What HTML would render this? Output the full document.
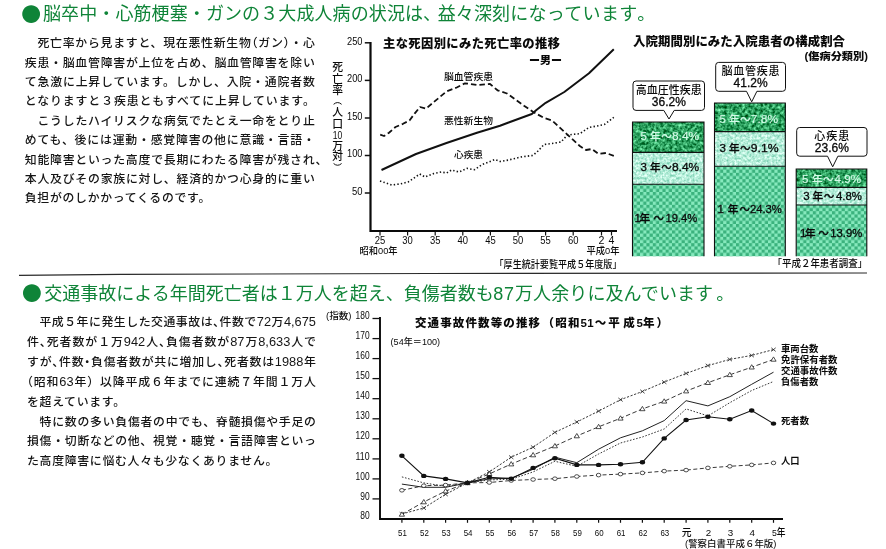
<!DOCTYPE html><html lang="ja"><head><meta charset="utf-8"><title>成人病と交通事故の状況</title><style>
html,body{margin:0;padding:0;background:#fff;}
#page{position:relative;width:886px;height:549px;background:#fff;overflow:hidden;font-family:"Liberation Sans","Noto Sans CJK JP",sans-serif;color:#111;}
.h{position:absolute;white-space:nowrap;color:#0f8438;font-size:18px;line-height:24px;height:24px;font-weight:400;font-family:"Liberation Sans","Noto Sans CJK JP",sans-serif;letter-spacing:0.1px;}
.h i{font-style:normal;margin-right:-3.5px;}
.bl{position:absolute;left:21.2px;color:#0f8438;font-size:19.8px;line-height:24px;height:24px;font-family:"Noto Sans CJK JP",sans-serif;}
.l u{text-decoration:none;font-size:12.8px;line-height:0;}
.l{position:absolute;white-space:nowrap;font-size:11.9px;line-height:19px;height:19px;font-weight:500;font-family:"Liberation Sans","Noto Sans CJK JP",sans-serif;text-align:justify;text-align-last:justify;text-justify:inter-character;color:#151515;}
.l.s{text-align:left;text-align-last:left;letter-spacing:0.68px;}
.l b{font-weight:inherit;font-feature-settings:"halt" 1;}
svg{position:absolute;left:0;top:0;}
svg text{font-family:"Liberation Sans","Noto Sans CJK JP",sans-serif;fill:#0a0a0a;font-weight:500;}
svg text.bk{font-weight:900;}
</style></head><body><div id="page">
<div class="bl" style="top:1.7px">●</div>
<div class="h" style="top:1.9px;left:43px">脳卒中・心筋梗塞・ガンの３大成人病の状況は<i>、</i>益々深刻<span style="letter-spacing:0.35px">になっています</span><span style="margin-left:-0.5px">。</span></div>
<div class="bl" style="top:281.4px;left:22px">●</div>
<div class="h" style="top:281.5px;left:44.2px;letter-spacing:0">交通事故による年間死亡者は１万人を超え、負傷者数も<span style="letter-spacing:0.9px;margin:0 0 0 -0.5px">87</span><span style="letter-spacing:0.1px">万人余りに及んでいます<span style="margin-left:3px">。</span></span></div>
<div class="l" style="left:24.8px;top:34.3px;width:290px">　死亡率から見ますと、現在悪性新生物<b>（</b>ガン<b>）</b>・心</div>
<div class="l" style="left:24.8px;top:53.7px;width:290px">疾患・脳血管障害が上位を占め、脳血管障害を除い</div>
<div class="l" style="left:24.8px;top:73.0px;width:290px">て急激に上昇しています。しかし、入院・通院者数</div>
<div class="l" style="left:24.8px;top:92.4px;width:290px">となりますと３疾患ともすべてに上昇しています。</div>
<div class="l" style="left:24.8px;top:111.8px;width:290px">　こうしたハイリスクな病気でたとえ一命をとり止</div>
<div class="l" style="left:24.8px;top:131.2px;width:290px">めても、後には運動・感覚障害の他に意識・言語・</div>
<div class="l" style="left:24.8px;top:150.5px;width:302.6px">知能障害といった高度で長期にわたる障害が残され、</div>
<div class="l" style="left:24.8px;top:169.9px;width:290px">本人及びその家族に対し、経済的かつ心身的に重い</div>
<div class="l s" style="left:24.8px;top:189.3px">負担がのしかかってくるのです。</div>
<div class="l" style="left:27px;top:313.3px;width:289px">　平成５年に発生した交通事故は<b>、</b>件数で<u>72</u>万<u>4,675</u></div>
<div class="l" style="left:27px;top:333.2px;width:289px">件<b>、</b>死者数が１万<u>942</u>人<b>、</b>負傷者数が<u>87</u>万<u>8,633</u>人で</div>
<div class="l" style="left:27px;top:353.0px;width:289px">すが<b>、</b>件数<b>・</b>負傷者数が共に増加し<b>、</b>死者数は<u>1988</u>年</div>
<div class="l" style="left:27px;top:372.9px;width:289px"><b>（</b>昭和<u>63</u>年）以降平成６年までに連続７年間１万人</div>
<div class="l s" style="left:27px;top:392.7px">を超えています。</div>
<div class="l" style="left:27px;top:412.6px;width:289px">　特に数の多い負傷者の中でも、脊髄損傷や手足の</div>
<div class="l" style="left:27px;top:432.4px;width:289px">損傷・切断などの他、視覚・聴覚・言語障害といっ</div>
<div class="l s" style="left:27px;top:452.2px">た高度障害に悩む人々も少なくありません。</div>
<svg width="886" height="549" viewBox="0 0 886 549">
<defs>
<pattern id="pd" width="6" height="6" patternUnits="userSpaceOnUse"><rect width="6" height="6" fill="#1f9758"/><rect x="0" y="0" width="2" height="2" fill="#55cf95"/><rect x="3" y="3" width="2" height="2" fill="#44c086"/><rect x="3" y="0" width="2.5" height="2.5" fill="#0f7c43"/><rect x="0" y="3" width="2.5" height="2.5" fill="#128247"/></pattern>
<pattern id="pm" width="6" height="6" patternUnits="userSpaceOnUse"><rect width="6" height="6" fill="#b9f0db"/><rect x="1" y="1" width="1.6" height="1.6" fill="#86c9b0"/><rect x="4" y="4" width="1.6" height="1.6" fill="#98d6be"/><rect x="4" y="1" width="1.3" height="1.3" fill="#a6e0ca"/></pattern>
<pattern id="pb" width="6.4" height="6.4" patternUnits="userSpaceOnUse"><rect width="6.4" height="6.4" fill="#86e9bd"/><rect x="0" y="0" width="3.2" height="3.2" fill="#3bb27d"/><rect x="3.2" y="3.2" width="3.2" height="3.2" fill="#3bb27d"/></pattern>
<filter id="fd" x="0" y="0" width="100%" height="100%" color-interpolation-filters="sRGB"><feTurbulence type="fractalNoise" baseFrequency="0.33" numOctaves="2" seed="7"/><feColorMatrix type="matrix" values="1.0 0 0 0 -0.32  1.1 0 0 0 0.08  1.05 0 0 0 -0.15  0 0 0 0 1"/></filter>
<filter id="fm" x="0" y="0" width="100%" height="100%" color-interpolation-filters="sRGB"><feTurbulence type="fractalNoise" baseFrequency="0.4" numOctaves="2" seed="11"/><feColorMatrix type="matrix" values="0.75 0 0 0 0.335  0.38 0 0 0 0.74  0.5 0 0 0 0.60  0 0 0 0 1"/></filter>
<filter id="fb" x="0" y="0" width="100%" height="100%" color-interpolation-filters="sRGB"><feTurbulence type="fractalNoise" baseFrequency="0.5" numOctaves="1" seed="5" result="n"/><feColorMatrix in="n" type="matrix" values="0 0 0 0 1  0 0 0 0 1  0 0 0 0 1  1.6 0 0 0 -0.62" result="w"/><feComposite in="w" in2="SourceGraphic" operator="over"/></filter>
</defs>
<path d="M19,275.3 L120,274.4 L430,273.5 L867,273" fill="none" stroke="#2a2a2a" stroke-width="1.2"/>
<g id="c1">
<path d="M370.5,42 V231 H617" fill="none" stroke="#0a0a0a" stroke-width="2.2"/>
<line x1="364.8" y1="42.8" x2="370.5" y2="42.8" stroke="#111" stroke-width="1.5"/>
<text x="362.5" y="44.6" font-size="10.6" text-anchor="end" textLength="15.5" lengthAdjust="spacingAndGlyphs">250</text>
<line x1="364.8" y1="80.4" x2="370.5" y2="80.4" stroke="#111" stroke-width="1.5"/>
<text x="362.5" y="82.2" font-size="10.6" text-anchor="end" textLength="15.5" lengthAdjust="spacingAndGlyphs">200</text>
<line x1="364.8" y1="118" x2="370.5" y2="118" stroke="#111" stroke-width="1.5"/>
<text x="362.5" y="119.8" font-size="10.6" text-anchor="end" textLength="15.5" lengthAdjust="spacingAndGlyphs">150</text>
<line x1="364.8" y1="155.5" x2="370.5" y2="155.5" stroke="#111" stroke-width="1.5"/>
<text x="362.5" y="157.3" font-size="10.6" text-anchor="end" textLength="15.5" lengthAdjust="spacingAndGlyphs">100</text>
<line x1="364.8" y1="193" x2="370.5" y2="193" stroke="#111" stroke-width="1.5"/>
<text x="362.5" y="194.8" font-size="10.6" text-anchor="end" textLength="10.5" lengthAdjust="spacingAndGlyphs">50</text>
<line x1="380" y1="231" x2="380" y2="235.5" stroke="#111" stroke-width="1.2"/>
<text x="380" y="244.3" font-size="10.6" text-anchor="middle" textLength="10.5" lengthAdjust="spacingAndGlyphs">25</text>
<line x1="407.6" y1="231" x2="407.6" y2="235.5" stroke="#111" stroke-width="1.2"/>
<text x="407.6" y="244.3" font-size="10.6" text-anchor="middle" textLength="10.5" lengthAdjust="spacingAndGlyphs">30</text>
<line x1="435.2" y1="231" x2="435.2" y2="235.5" stroke="#111" stroke-width="1.2"/>
<text x="435.2" y="244.3" font-size="10.6" text-anchor="middle" textLength="10.5" lengthAdjust="spacingAndGlyphs">35</text>
<line x1="462.8" y1="231" x2="462.8" y2="235.5" stroke="#111" stroke-width="1.2"/>
<text x="462.8" y="244.3" font-size="10.6" text-anchor="middle" textLength="10.5" lengthAdjust="spacingAndGlyphs">40</text>
<line x1="490.4" y1="231" x2="490.4" y2="235.5" stroke="#111" stroke-width="1.2"/>
<text x="490.4" y="244.3" font-size="10.6" text-anchor="middle" textLength="10.5" lengthAdjust="spacingAndGlyphs">45</text>
<line x1="518" y1="231" x2="518" y2="235.5" stroke="#111" stroke-width="1.2"/>
<text x="518" y="244.3" font-size="10.6" text-anchor="middle" textLength="10.5" lengthAdjust="spacingAndGlyphs">50</text>
<line x1="545.6" y1="231" x2="545.6" y2="235.5" stroke="#111" stroke-width="1.2"/>
<text x="545.6" y="244.3" font-size="10.6" text-anchor="middle" textLength="10.5" lengthAdjust="spacingAndGlyphs">55</text>
<line x1="573.2" y1="231" x2="573.2" y2="235.5" stroke="#111" stroke-width="1.2"/>
<text x="573.2" y="244.3" font-size="10.6" text-anchor="middle" textLength="10.5" lengthAdjust="spacingAndGlyphs">60</text>
<line x1="601.5" y1="231" x2="601.5" y2="235.5" stroke="#111" stroke-width="1.2"/>
<text x="601.5" y="244.3" font-size="10.6" text-anchor="middle">2</text>
<line x1="611.5" y1="231" x2="611.5" y2="235.5" stroke="#111" stroke-width="1.2"/>
<text x="611.5" y="244.3" font-size="10.6" text-anchor="middle">4</text>
<text x="359.6" y="254" font-size="9.6" textLength="38" lengthAdjust="spacingAndGlyphs">昭和00年</text>
<text x="586.5" y="254" font-size="9.6" textLength="33" lengthAdjust="spacingAndGlyphs">平成0年</text>
<text x="494.5" y="267.8" font-size="10" textLength="127" lengthAdjust="spacingAndGlyphs">「厚生統計要覧平成５年度版」</text>
<text x="383" y="47.5" font-size="12.3" class="bk" textLength="177" lengthAdjust="spacing">主な死因別にみた死亡率の推移</text>
<text x="529" y="63.5" font-size="10.5" class="bk" textLength="33" lengthAdjust="spacingAndGlyphs">ー男ー</text>
<text x="444" y="80" font-size="9.6" textLength="49" lengthAdjust="spacingAndGlyphs">脳血管疾患</text>
<text x="444" y="124" font-size="9.6" textLength="49" lengthAdjust="spacingAndGlyphs">悪性新生物</text>
<text x="454" y="158" font-size="9.6" textLength="29" lengthAdjust="spacingAndGlyphs">心疾患</text>
<text font-size="10.8" text-anchor="middle"><tspan x="337.6" y="70.7">死</tspan><tspan x="337.6" y="82.9">亡</tspan><tspan x="337.6" y="94.4">率</tspan><tspan x="337.6" y="115.7">人</tspan><tspan x="337.6" y="127.9">口</tspan><tspan x="337.6" y="149.9">万</tspan><tspan x="337.6" y="160.2">対</tspan><tspan x="337.6" y="139.3" textLength="9.5" lengthAdjust="spacingAndGlyphs">10</tspan></text>
<path d="M333.6,104.3 Q337.6,100.8 341.6,104.3" fill="none" stroke="#111" stroke-width="1"/>
<path d="M333.6,163.5 Q337.6,167 341.6,163.5" fill="none" stroke="#111" stroke-width="1"/>
<path d="M380.2,134.7 L384.0,136.0 L389.0,132.7 L395.5,127.0 L403.0,123.8 L409.5,120.5 L414.6,113.6 L420.0,107.0 L426.0,108.7 L433.8,102.0 L446.5,91.5 L456.7,87.5 L465.0,83.3 L477.0,85.0 L490.0,84.0 L497.5,90.3 L507.0,93.5 L524.0,105.8 L533.3,112.0 L544.0,118.0 L552.0,120.4 L567.4,134.6 L579.8,146.0 L586.0,150.0 L592.0,149.0 L598.4,153.8 L606.0,153.0 L613.8,155.8" fill="none" stroke="#111" stroke-width="1.8" stroke-dasharray="5.5,3" stroke-linejoin="round"/>
<path d="M381.5,170.0 L416.0,154.0 L446.5,143.0 L477.0,132.7 L500.0,125.8 L508.6,122.5 L531.8,114.0 L536.4,110.0 L545.7,102.8 L564.3,92.0 L589.0,73.3 L613.8,49.2" fill="none" stroke="#111" stroke-width="2" stroke-linejoin="round"/>
<path d="M380.0,181.0 L391.7,185.0 L400.0,184.0 L408.0,182.0 L414.0,178.0 L419.7,174.0 L425.0,177.0 L433.8,173.5 L441.4,172.0 L446.5,173.0 L451.6,170.0 L459.0,172.0 L467.0,168.4 L474.6,169.7 L482.0,164.6 L495.0,159.5 L500.0,161.5 L508.6,160.0 L521.0,157.0 L533.0,155.4 L538.0,151.0 L544.0,144.5 L552.0,143.5 L561.0,142.0 L567.4,135.0 L579.8,133.7 L589.0,127.5 L596.8,126.0 L604.5,124.4 L609.0,121.0 L613.8,117.3" fill="none" stroke="#111" stroke-width="1.6" stroke-dasharray="1.4,2.2" stroke-linejoin="round"/>
</g>
<g id="c2">
<text x="633" y="45.5" font-size="12.4" class="bk" textLength="212" lengthAdjust="spacing">入院期間別にみた入院患者の構成割合</text>
<text x="804.5" y="59.6" font-size="10.4" class="bk" textLength="63.5" lengthAdjust="spacingAndGlyphs">(傷病分類別)</text>
<rect x="632.5" y="122" width="71.5" height="30.4" fill="#2a9c5c" filter="url(#fd)"/>
<rect x="632.5" y="152.4" width="71.5" height="31.8" fill="#b5ecd6" filter="url(#fm)"/>
<rect x="632.5" y="184.2" width="71.5" height="72.1" fill="url(#pb)"/>
<path d="M632.5,256.3 V122 H704 V256.3 M632.5,152.4 H704 M632.5,184.2 H704" fill="none" stroke="#111" stroke-width="1.1"/>
<rect x="714.5" y="103" width="70.8" height="28.6" fill="#2a9c5c" filter="url(#fd)"/>
<rect x="714.5" y="131.6" width="70.8" height="34.7" fill="#b5ecd6" filter="url(#fm)"/>
<rect x="714.5" y="166.3" width="70.8" height="90.0" fill="url(#pb)"/>
<path d="M714.5,256.3 V103 H785.3 V256.3 M714.5,131.6 H785.3 M714.5,166.3 H785.3" fill="none" stroke="#111" stroke-width="1.1"/>
<rect x="796.2" y="169" width="70.6" height="18.4" fill="#2a9c5c" filter="url(#fd)"/>
<rect x="796.2" y="187.4" width="70.6" height="17.6" fill="#b5ecd6" filter="url(#fm)"/>
<rect x="796.2" y="205" width="70.6" height="51.3" fill="url(#pb)"/>
<path d="M796.2,256.3 V169 H866.8 V256.3 M796.2,187.4 H866.8 M796.2,205 H866.8" fill="none" stroke="#111" stroke-width="1.1"/>
<text y="140.3" font-size="11.5" style="fill:#d4fbe8;stroke:#d4fbe8;stroke-width:0.15"><tspan x="640.4">5</tspan><tspan x="649.9" font-size="10.6">年</tspan><tspan x="661.2" font-size="10.6">～</tspan><tspan x="671.9" textLength="27.3" lengthAdjust="spacingAndGlyphs">8.4%</tspan></text>
<text y="171.2" font-size="11.5" style="fill:#0a0a0a;stroke:#0a0a0a;stroke-width:0.3"><tspan x="640.4">3</tspan><tspan x="649.9" font-size="10.6">年</tspan><tspan x="661.2" font-size="10.6">～</tspan><tspan x="671.9" textLength="27.3" lengthAdjust="spacingAndGlyphs">8.4%</tspan></text>
<text y="221.8" font-size="11.5" style="fill:#0a0a0a;stroke:#0a0a0a;stroke-width:0.3"><tspan x="634.6">1</tspan><tspan x="639.6" font-size="10.6">年</tspan><tspan x="653.4" font-size="10.6">～</tspan><tspan x="665.4" textLength="31.8" lengthAdjust="spacingAndGlyphs">19.4%</tspan></text>
<text y="122.7" font-size="11.5" style="fill:#d4fbe8;stroke:#d4fbe8;stroke-width:0.15"><tspan x="719.5">5</tspan><tspan x="729.0" font-size="10.6">年</tspan><tspan x="740.1" font-size="10.6">～</tspan><tspan x="750.8" textLength="27.3" lengthAdjust="spacingAndGlyphs">7.8%</tspan></text>
<text y="152.2" font-size="11.5" style="fill:#0a0a0a;stroke:#0a0a0a;stroke-width:0.3"><tspan x="719.5">3</tspan><tspan x="729.0" font-size="10.6">年</tspan><tspan x="740.1" font-size="10.6">～</tspan><tspan x="750.8" textLength="27.8" lengthAdjust="spacingAndGlyphs">9.1%</tspan></text>
<text y="213.0" font-size="11.5" style="fill:#0a0a0a;stroke:#0a0a0a;stroke-width:0.3"><tspan x="717.6">1</tspan><tspan x="727.8" font-size="10.6">年</tspan><tspan x="739.6" font-size="10.6">～</tspan><tspan x="749.9" textLength="32" lengthAdjust="spacingAndGlyphs">24.3%</tspan></text>
<text y="182.6" font-size="11.5" style="fill:#d4fbe8;stroke:#d4fbe8;stroke-width:0.15"><tspan x="801.9">5</tspan><tspan x="811.9" font-size="10.6">年</tspan><tspan x="823.1" font-size="10.6">～</tspan><tspan x="834.6" textLength="26.5" lengthAdjust="spacingAndGlyphs">4.9%</tspan></text>
<text y="200.0" font-size="11.5" style="fill:#0a0a0a;stroke:#0a0a0a;stroke-width:0.3"><tspan x="803.3">3</tspan><tspan x="812.6" font-size="10.6">年</tspan><tspan x="823.8" font-size="10.6">～</tspan><tspan x="835.9" textLength="26" lengthAdjust="spacingAndGlyphs">4.8%</tspan></text>
<text y="236.5" font-size="11.5" style="fill:#0a0a0a;stroke:#0a0a0a;stroke-width:0.3"><tspan x="799.9">1</tspan><tspan x="804.9" font-size="10.6">年</tspan><tspan x="818.3" font-size="10.6">～</tspan><tspan x="830.2" textLength="32" lengthAdjust="spacingAndGlyphs">13.9%</tspan></text>
<path d="M636,81 H701.5 Q704.5,81 704.5,84 V107.4 Q704.5,110.4 701.5,110.4 H674.2 L669,119 L663.8,110.4 H636 Q633,110.4 633,107.4 V84 Q633,81 636,81 Z" fill="#fff" stroke="#111" stroke-width="1"/>
<path d="M718.7,62.4 H782.5 Q785.5,62.4 785.5,65.4 V88.3 Q785.5,91.3 782.5,91.3 H756.9000000000001 L751.7,101.8 L746.5,91.3 H718.7 Q715.7,91.3 715.7,88.3 V65.4 Q715.7,62.4 718.7,62.4 Z" fill="#fff" stroke="#111" stroke-width="1"/>
<path d="M799.7,127.5 H864 Q867,127.5 867,130.5 V153.2 Q867,156.2 864,156.2 H837.9000000000001 L832.7,166.8 L827.5,156.2 H799.7 Q796.7,156.2 796.7,153.2 V130.5 Q796.7,127.5 799.7,127.5 Z" fill="#fff" stroke="#111" stroke-width="1"/>
<text x="668.8" y="93.5" font-size="11" text-anchor="middle" textLength="66" lengthAdjust="spacingAndGlyphs">高血圧性疾患</text>
<text x="668.8" y="105.6" font-size="12" text-anchor="middle" style="stroke:#0a0a0a;stroke-width:0.3">36.2%</text>
<text x="750.6" y="75" font-size="11" text-anchor="middle" textLength="58" lengthAdjust="spacing">脳血管疾患</text>
<text x="750.6" y="87.2" font-size="12" text-anchor="middle" style="stroke:#0a0a0a;stroke-width:0.3">41.2%</text>
<text x="831.8" y="140" font-size="11" text-anchor="middle" textLength="35" lengthAdjust="spacing">心疾患</text>
<text x="831.8" y="152.3" font-size="12" text-anchor="middle" style="stroke:#0a0a0a;stroke-width:0.3">23.6%</text>
<text x="772.5" y="267.2" font-size="9.8" textLength="94.7" lengthAdjust="spacingAndGlyphs">「平成２年患者調査」</text>
</g>
<g id="c3">
<path d="M380,317 V519 H783" fill="none" stroke="#0a0a0a" stroke-width="1.9"/>
<text x="369.6" y="518.7" font-size="10.5" text-anchor="end" textLength="9.4" lengthAdjust="spacingAndGlyphs">80</text>
<line x1="372.5" y1="498.9" x2="380" y2="498.9" stroke="#111" stroke-width="1.3"/>
<text x="369.6" y="499.6" font-size="10.5" text-anchor="end" textLength="9.4" lengthAdjust="spacingAndGlyphs">90</text>
<line x1="372.5" y1="478.9" x2="380" y2="478.9" stroke="#111" stroke-width="1.3"/>
<text x="369.6" y="479.5" font-size="10.5" text-anchor="end" textLength="14" lengthAdjust="spacingAndGlyphs">100</text>
<line x1="372.5" y1="458.9" x2="380" y2="458.9" stroke="#111" stroke-width="1.3"/>
<text x="369.6" y="459.5" font-size="10.5" text-anchor="end" textLength="14" lengthAdjust="spacingAndGlyphs">110</text>
<line x1="372.5" y1="438.8" x2="380" y2="438.8" stroke="#111" stroke-width="1.3"/>
<text x="369.6" y="439.4" font-size="10.5" text-anchor="end" textLength="14" lengthAdjust="spacingAndGlyphs">120</text>
<line x1="372.5" y1="418.8" x2="380" y2="418.8" stroke="#111" stroke-width="1.3"/>
<text x="369.6" y="419.4" font-size="10.5" text-anchor="end" textLength="14" lengthAdjust="spacingAndGlyphs">130</text>
<line x1="372.5" y1="398.7" x2="380" y2="398.7" stroke="#111" stroke-width="1.3"/>
<text x="369.6" y="399.3" font-size="10.5" text-anchor="end" textLength="14" lengthAdjust="spacingAndGlyphs">140</text>
<line x1="372.5" y1="378.6" x2="380" y2="378.6" stroke="#111" stroke-width="1.3"/>
<text x="369.6" y="379.2" font-size="10.5" text-anchor="end" textLength="14" lengthAdjust="spacingAndGlyphs">150</text>
<line x1="372.5" y1="358.6" x2="380" y2="358.6" stroke="#111" stroke-width="1.3"/>
<text x="369.6" y="359.2" font-size="10.5" text-anchor="end" textLength="14" lengthAdjust="spacingAndGlyphs">160</text>
<line x1="372.5" y1="338.6" x2="380" y2="338.6" stroke="#111" stroke-width="1.3"/>
<text x="369.6" y="339.2" font-size="10.5" text-anchor="end" textLength="14" lengthAdjust="spacingAndGlyphs">170</text>
<line x1="372.5" y1="318.5" x2="380" y2="318.5" stroke="#111" stroke-width="1.3"/>
<text x="369.6" y="319.1" font-size="10.5" text-anchor="end" textLength="14" lengthAdjust="spacingAndGlyphs">180</text>
<text x="326" y="318.7" font-size="8.8" textLength="25.5" lengthAdjust="spacingAndGlyphs">(指数)</text>
<line x1="401.9" y1="519" x2="401.9" y2="522.8" stroke="#111" stroke-width="1.2"/>
<text x="402.5" y="536.2" font-size="9.8" text-anchor="middle" textLength="8.8" lengthAdjust="spacingAndGlyphs">51</text>
<line x1="423.8" y1="519" x2="423.8" y2="522.8" stroke="#111" stroke-width="1.2"/>
<text x="424.4" y="536.2" font-size="9.8" text-anchor="middle" textLength="8.8" lengthAdjust="spacingAndGlyphs">52</text>
<line x1="445.6" y1="519" x2="445.6" y2="522.8" stroke="#111" stroke-width="1.2"/>
<text x="446.2" y="536.2" font-size="9.8" text-anchor="middle" textLength="8.8" lengthAdjust="spacingAndGlyphs">53</text>
<line x1="467.5" y1="519" x2="467.5" y2="522.8" stroke="#111" stroke-width="1.2"/>
<text x="468.1" y="536.2" font-size="9.8" text-anchor="middle" textLength="8.8" lengthAdjust="spacingAndGlyphs">54</text>
<line x1="489.3" y1="519" x2="489.3" y2="522.8" stroke="#111" stroke-width="1.2"/>
<text x="489.9" y="536.2" font-size="9.8" text-anchor="middle" textLength="8.8" lengthAdjust="spacingAndGlyphs">55</text>
<line x1="511.2" y1="519" x2="511.2" y2="522.8" stroke="#111" stroke-width="1.2"/>
<text x="511.8" y="536.2" font-size="9.8" text-anchor="middle" textLength="8.8" lengthAdjust="spacingAndGlyphs">56</text>
<line x1="533.1" y1="519" x2="533.1" y2="522.8" stroke="#111" stroke-width="1.2"/>
<text x="533.7" y="536.2" font-size="9.8" text-anchor="middle" textLength="8.8" lengthAdjust="spacingAndGlyphs">57</text>
<line x1="554.9" y1="519" x2="554.9" y2="522.8" stroke="#111" stroke-width="1.2"/>
<text x="555.5" y="536.2" font-size="9.8" text-anchor="middle" textLength="8.8" lengthAdjust="spacingAndGlyphs">58</text>
<line x1="576.8" y1="519" x2="576.8" y2="522.8" stroke="#111" stroke-width="1.2"/>
<text x="577.4" y="536.2" font-size="9.8" text-anchor="middle" textLength="8.8" lengthAdjust="spacingAndGlyphs">59</text>
<line x1="598.6" y1="519" x2="598.6" y2="522.8" stroke="#111" stroke-width="1.2"/>
<text x="599.2" y="536.2" font-size="9.8" text-anchor="middle" textLength="8.8" lengthAdjust="spacingAndGlyphs">60</text>
<line x1="620.5" y1="519" x2="620.5" y2="522.8" stroke="#111" stroke-width="1.2"/>
<text x="621.1" y="536.2" font-size="9.8" text-anchor="middle" textLength="8.8" lengthAdjust="spacingAndGlyphs">61</text>
<line x1="642.4" y1="519" x2="642.4" y2="522.8" stroke="#111" stroke-width="1.2"/>
<text x="643.0" y="536.2" font-size="9.8" text-anchor="middle" textLength="8.8" lengthAdjust="spacingAndGlyphs">62</text>
<line x1="664.2" y1="519" x2="664.2" y2="522.8" stroke="#111" stroke-width="1.2"/>
<text x="664.8" y="536.2" font-size="9.8" text-anchor="middle" textLength="8.8" lengthAdjust="spacingAndGlyphs">63</text>
<line x1="686.1" y1="519" x2="686.1" y2="522.8" stroke="#111" stroke-width="1.2"/>
<text x="686.7" y="536.2" font-size="9.8" text-anchor="middle">元</text>
<line x1="707.9" y1="519" x2="707.9" y2="522.8" stroke="#111" stroke-width="1.2"/>
<text x="708.5" y="536.2" font-size="9.8" text-anchor="middle">2</text>
<line x1="729.8" y1="519" x2="729.8" y2="522.8" stroke="#111" stroke-width="1.2"/>
<text x="730.4" y="536.2" font-size="9.8" text-anchor="middle">3</text>
<line x1="751.7" y1="519" x2="751.7" y2="522.8" stroke="#111" stroke-width="1.2"/>
<text x="752.3" y="536.2" font-size="9.8" text-anchor="middle">4</text>
<line x1="773.5" y1="519" x2="773.5" y2="522.8" stroke="#111" stroke-width="1.2"/>
<text x="771.9" y="536.2" font-size="9.8" text-anchor="start" textLength="13.6" lengthAdjust="spacingAndGlyphs">5年</text>
<text x="685" y="546.6" font-size="8.6" textLength="91.5" lengthAdjust="spacingAndGlyphs">(警察白書平成６年版)</text>
<text x="415" y="327" font-size="11.5" class="bk" textLength="125" lengthAdjust="spacing">交通事故件数等の推移</text>
<text x="542.5" y="327" font-size="11.5" class="bk" style="letter-spacing:1.2px">（昭和<tspan style="letter-spacing:0.2px">51</tspan><tspan dx="1">～</tspan><tspan dx="0.8">平</tspan><tspan dx="2.2">成</tspan><tspan dx="0.6" style="letter-spacing:0">5</tspan>年<tspan dx="0.8">）</tspan></text>
<text x="390.6" y="345.2" font-size="8.6" textLength="49.5" lengthAdjust="spacingAndGlyphs">(54年＝100)</text>
<text x="781" y="351.9" font-size="9.5" style="font-weight:700" textLength="37.5" lengthAdjust="spacingAndGlyphs">車両台数</text>
<text x="781" y="363.1" font-size="9.5" style="font-weight:700" textLength="56.5" lengthAdjust="spacingAndGlyphs">免許保有者数</text>
<text x="781" y="373.5" font-size="9.5" style="font-weight:700" textLength="56.5" lengthAdjust="spacingAndGlyphs">交通事故件数</text>
<text x="781" y="385.2" font-size="9.5" style="font-weight:700" textLength="37.5" lengthAdjust="spacingAndGlyphs">負傷者数</text>
<text x="781" y="423.5" font-size="9.5" style="font-weight:700" textLength="28" lengthAdjust="spacingAndGlyphs">死者数</text>
<text x="781" y="464.0" font-size="9.5" style="font-weight:700" textLength="18.5" lengthAdjust="spacingAndGlyphs">人口</text>
<path d="M401.9,514.0 L423.8,508.0 L445.6,494.3 L467.5,482.9 L489.3,471.9 L511.2,457.2 L533.1,447.2 L554.9,432.4 L576.8,422.0 L598.6,411.1 L620.5,399.7 L642.4,391.5 L664.2,382.1 L686.1,373.4 L707.9,365.6 L729.8,359.4 L751.7,355.4 L773.5,349.6" fill="none" stroke="#222" stroke-width="0.9" stroke-dasharray="2.2,1.6"/>
<path d="M399.7,512.2 L404.1,515.8 M399.7,515.8 L404.1,512.2" stroke="#222" stroke-width="0.8" fill="none"/>
<path d="M421.6,506.2 L426.0,509.8 M421.6,509.8 L426.0,506.2" stroke="#222" stroke-width="0.8" fill="none"/>
<path d="M443.4,492.5 L447.8,496.1 M443.4,496.1 L447.8,492.5" stroke="#222" stroke-width="0.8" fill="none"/>
<path d="M465.3,481.1 L469.7,484.7 M465.3,484.7 L469.7,481.1" stroke="#222" stroke-width="0.8" fill="none"/>
<path d="M487.1,470.1 L491.5,473.7 M487.1,473.7 L491.5,470.1" stroke="#222" stroke-width="0.8" fill="none"/>
<path d="M509.0,455.4 L513.4,459.0 M509.0,459.0 L513.4,455.4" stroke="#222" stroke-width="0.8" fill="none"/>
<path d="M530.9,445.4 L535.3,449.0 M530.9,449.0 L535.3,445.4" stroke="#222" stroke-width="0.8" fill="none"/>
<path d="M552.7,430.6 L557.1,434.2 M552.7,434.2 L557.1,430.6" stroke="#222" stroke-width="0.8" fill="none"/>
<path d="M574.6,420.2 L579.0,423.8 M574.6,423.8 L579.0,420.2" stroke="#222" stroke-width="0.8" fill="none"/>
<path d="M596.4,409.3 L600.8,412.9 M596.4,412.9 L600.8,409.3" stroke="#222" stroke-width="0.8" fill="none"/>
<path d="M618.3,397.9 L622.7,401.5 M618.3,401.5 L622.7,397.9" stroke="#222" stroke-width="0.8" fill="none"/>
<path d="M640.2,389.7 L644.6,393.3 M640.2,393.3 L644.6,389.7" stroke="#222" stroke-width="0.8" fill="none"/>
<path d="M662.0,380.3 L666.4,383.9 M662.0,383.9 L666.4,380.3" stroke="#222" stroke-width="0.8" fill="none"/>
<path d="M683.9,371.6 L688.3,375.2 M683.9,375.2 L688.3,371.6" stroke="#222" stroke-width="0.8" fill="none"/>
<path d="M705.7,363.8 L710.1,367.4 M705.7,367.4 L710.1,363.8" stroke="#222" stroke-width="0.8" fill="none"/>
<path d="M727.6,357.6 L732.0,361.2 M727.6,361.2 L732.0,357.6" stroke="#222" stroke-width="0.8" fill="none"/>
<path d="M749.5,353.6 L753.9,357.2 M749.5,357.2 L753.9,353.6" stroke="#222" stroke-width="0.8" fill="none"/>
<path d="M771.3,347.8 L775.7,351.4 M771.3,351.4 L775.7,347.8" stroke="#222" stroke-width="0.8" fill="none"/>
<path d="M401.9,514.4 L423.8,502.0 L445.6,491.1 L467.5,482.9 L489.3,473.9 L511.2,464.1 L533.1,455.0 L554.9,446.0 L576.8,436.0 L598.6,426.8 L620.5,418.3 L642.4,408.9 L664.2,401.3 L686.1,391.1 L707.9,382.7 L729.8,374.8 L751.7,367.2 L773.5,359.4" fill="none" stroke="#222" stroke-width="0.9" stroke-dasharray="4.5,2.5"/>
<path d="M401.9,511.9 L404.5,516.2 L399.3,516.2 Z" stroke="#222" stroke-width="0.8" fill="#fff"/>
<path d="M423.8,499.5 L426.4,503.8 L421.2,503.8 Z" stroke="#222" stroke-width="0.8" fill="#fff"/>
<path d="M445.6,488.6 L448.2,492.9 L443.0,492.9 Z" stroke="#222" stroke-width="0.8" fill="#fff"/>
<path d="M467.5,480.4 L470.1,484.7 L464.9,484.7 Z" stroke="#222" stroke-width="0.8" fill="#fff"/>
<path d="M489.3,471.4 L491.9,475.7 L486.7,475.7 Z" stroke="#222" stroke-width="0.8" fill="#fff"/>
<path d="M511.2,461.6 L513.8,465.9 L508.6,465.9 Z" stroke="#222" stroke-width="0.8" fill="#fff"/>
<path d="M533.1,452.5 L535.7,456.8 L530.5,456.8 Z" stroke="#222" stroke-width="0.8" fill="#fff"/>
<path d="M554.9,443.5 L557.5,447.8 L552.3,447.8 Z" stroke="#222" stroke-width="0.8" fill="#fff"/>
<path d="M576.8,433.5 L579.4,437.8 L574.2,437.8 Z" stroke="#222" stroke-width="0.8" fill="#fff"/>
<path d="M598.6,424.3 L601.2,428.6 L596.0,428.6 Z" stroke="#222" stroke-width="0.8" fill="#fff"/>
<path d="M620.5,415.8 L623.1,420.1 L617.9,420.1 Z" stroke="#222" stroke-width="0.8" fill="#fff"/>
<path d="M642.4,406.4 L645.0,410.7 L639.8,410.7 Z" stroke="#222" stroke-width="0.8" fill="#fff"/>
<path d="M664.2,398.8 L666.8,403.1 L661.6,403.1 Z" stroke="#222" stroke-width="0.8" fill="#fff"/>
<path d="M686.1,388.6 L688.7,392.9 L683.5,392.9 Z" stroke="#222" stroke-width="0.8" fill="#fff"/>
<path d="M707.9,380.2 L710.5,384.5 L705.3,384.5 Z" stroke="#222" stroke-width="0.8" fill="#fff"/>
<path d="M729.8,372.3 L732.4,376.6 L727.2,376.6 Z" stroke="#222" stroke-width="0.8" fill="#fff"/>
<path d="M751.7,364.7 L754.3,369.0 L749.1,369.0 Z" stroke="#222" stroke-width="0.8" fill="#fff"/>
<path d="M773.5,356.9 L776.1,361.2 L770.9,361.2 Z" stroke="#222" stroke-width="0.8" fill="#fff"/>
<path d="M401.9,484.1 L423.8,487.3 L445.6,487.3 L467.5,482.9 L489.3,478.9 L511.2,478.1 L533.1,469.3 L554.9,457.2 L576.8,462.7 L598.6,449.2 L620.5,437.8 L642.4,430.8 L664.2,420.6 L686.1,400.7 L707.9,405.9 L729.8,396.7 L751.7,384.3 L773.5,372.2" fill="none" stroke="#222" stroke-width="1"/>
<path d="M401.9,476.9 L423.8,482.9 L445.6,486.3 L467.5,482.9 L489.3,479.9 L511.2,479.3 L533.1,471.9 L554.9,461.3 L576.8,466.3 L598.6,454.0 L620.5,443.0 L642.4,437.0 L664.2,429.0 L686.1,408.9 L707.9,415.9 L729.8,402.7 L751.7,390.5 L773.5,381.5" fill="none" stroke="#222" stroke-width="0.9" stroke-dasharray="1.6,1.6"/>
<path d="M401.9,490.3 L423.8,485.7 L445.6,485.1 L467.5,482.9 L489.3,482.5 L511.2,480.5 L533.1,479.5 L554.9,478.7 L576.8,476.5 L598.6,475.1 L620.5,474.1 L642.4,472.9 L664.2,471.1 L686.1,470.1 L707.9,467.9 L729.8,466.3 L751.7,464.9 L773.5,462.9" fill="none" stroke="#222" stroke-width="0.9" stroke-dasharray="4,2.5"/>
<ellipse cx="401.9" cy="490.3" rx="2.3" ry="1.8" stroke="#222" stroke-width="0.8" fill="#fff"/>
<ellipse cx="423.8" cy="485.7" rx="2.3" ry="1.8" stroke="#222" stroke-width="0.8" fill="#fff"/>
<ellipse cx="445.6" cy="485.1" rx="2.3" ry="1.8" stroke="#222" stroke-width="0.8" fill="#fff"/>
<ellipse cx="467.5" cy="482.9" rx="2.3" ry="1.8" stroke="#222" stroke-width="0.8" fill="#fff"/>
<ellipse cx="489.3" cy="482.5" rx="2.3" ry="1.8" stroke="#222" stroke-width="0.8" fill="#fff"/>
<ellipse cx="511.2" cy="480.5" rx="2.3" ry="1.8" stroke="#222" stroke-width="0.8" fill="#fff"/>
<ellipse cx="533.1" cy="479.5" rx="2.3" ry="1.8" stroke="#222" stroke-width="0.8" fill="#fff"/>
<ellipse cx="554.9" cy="478.7" rx="2.3" ry="1.8" stroke="#222" stroke-width="0.8" fill="#fff"/>
<ellipse cx="576.8" cy="476.5" rx="2.3" ry="1.8" stroke="#222" stroke-width="0.8" fill="#fff"/>
<ellipse cx="598.6" cy="475.1" rx="2.3" ry="1.8" stroke="#222" stroke-width="0.8" fill="#fff"/>
<ellipse cx="620.5" cy="474.1" rx="2.3" ry="1.8" stroke="#222" stroke-width="0.8" fill="#fff"/>
<ellipse cx="642.4" cy="472.9" rx="2.3" ry="1.8" stroke="#222" stroke-width="0.8" fill="#fff"/>
<ellipse cx="664.2" cy="471.1" rx="2.3" ry="1.8" stroke="#222" stroke-width="0.8" fill="#fff"/>
<ellipse cx="686.1" cy="470.1" rx="2.3" ry="1.8" stroke="#222" stroke-width="0.8" fill="#fff"/>
<ellipse cx="707.9" cy="467.9" rx="2.3" ry="1.8" stroke="#222" stroke-width="0.8" fill="#fff"/>
<ellipse cx="729.8" cy="466.3" rx="2.3" ry="1.8" stroke="#222" stroke-width="0.8" fill="#fff"/>
<ellipse cx="751.7" cy="464.9" rx="2.3" ry="1.8" stroke="#222" stroke-width="0.8" fill="#fff"/>
<ellipse cx="773.5" cy="462.9" rx="2.3" ry="1.8" stroke="#222" stroke-width="0.8" fill="#fff"/>
<path d="M401.9,455.8 L423.8,475.9 L445.6,478.9 L467.5,482.9 L489.3,477.3 L511.2,478.7 L533.1,467.9 L554.9,458.2 L576.8,464.9 L598.6,464.9 L620.5,464.3 L642.4,462.3 L664.2,438.4 L686.1,420.0 L707.9,416.7 L729.8,419.2 L751.7,410.5 L773.5,423.6" fill="none" stroke="#111" stroke-width="1.1"/>
<ellipse cx="401.9" cy="455.8" rx="2.7" ry="2.2" fill="#111"/>
<ellipse cx="423.8" cy="475.9" rx="2.7" ry="2.2" fill="#111"/>
<ellipse cx="445.6" cy="478.9" rx="2.7" ry="2.2" fill="#111"/>
<ellipse cx="467.5" cy="482.9" rx="2.7" ry="2.2" fill="#111"/>
<ellipse cx="489.3" cy="477.3" rx="2.7" ry="2.2" fill="#111"/>
<ellipse cx="511.2" cy="478.7" rx="2.7" ry="2.2" fill="#111"/>
<ellipse cx="533.1" cy="467.9" rx="2.7" ry="2.2" fill="#111"/>
<ellipse cx="554.9" cy="458.2" rx="2.7" ry="2.2" fill="#111"/>
<ellipse cx="576.8" cy="464.9" rx="2.7" ry="2.2" fill="#111"/>
<ellipse cx="598.6" cy="464.9" rx="2.7" ry="2.2" fill="#111"/>
<ellipse cx="620.5" cy="464.3" rx="2.7" ry="2.2" fill="#111"/>
<ellipse cx="642.4" cy="462.3" rx="2.7" ry="2.2" fill="#111"/>
<ellipse cx="664.2" cy="438.4" rx="2.7" ry="2.2" fill="#111"/>
<ellipse cx="686.1" cy="420.0" rx="2.7" ry="2.2" fill="#111"/>
<ellipse cx="707.9" cy="416.7" rx="2.7" ry="2.2" fill="#111"/>
<ellipse cx="729.8" cy="419.2" rx="2.7" ry="2.2" fill="#111"/>
<ellipse cx="751.7" cy="410.5" rx="2.7" ry="2.2" fill="#111"/>
<ellipse cx="773.5" cy="423.6" rx="2.7" ry="2.2" fill="#111"/>
</g>
</svg>
</div></body></html>
